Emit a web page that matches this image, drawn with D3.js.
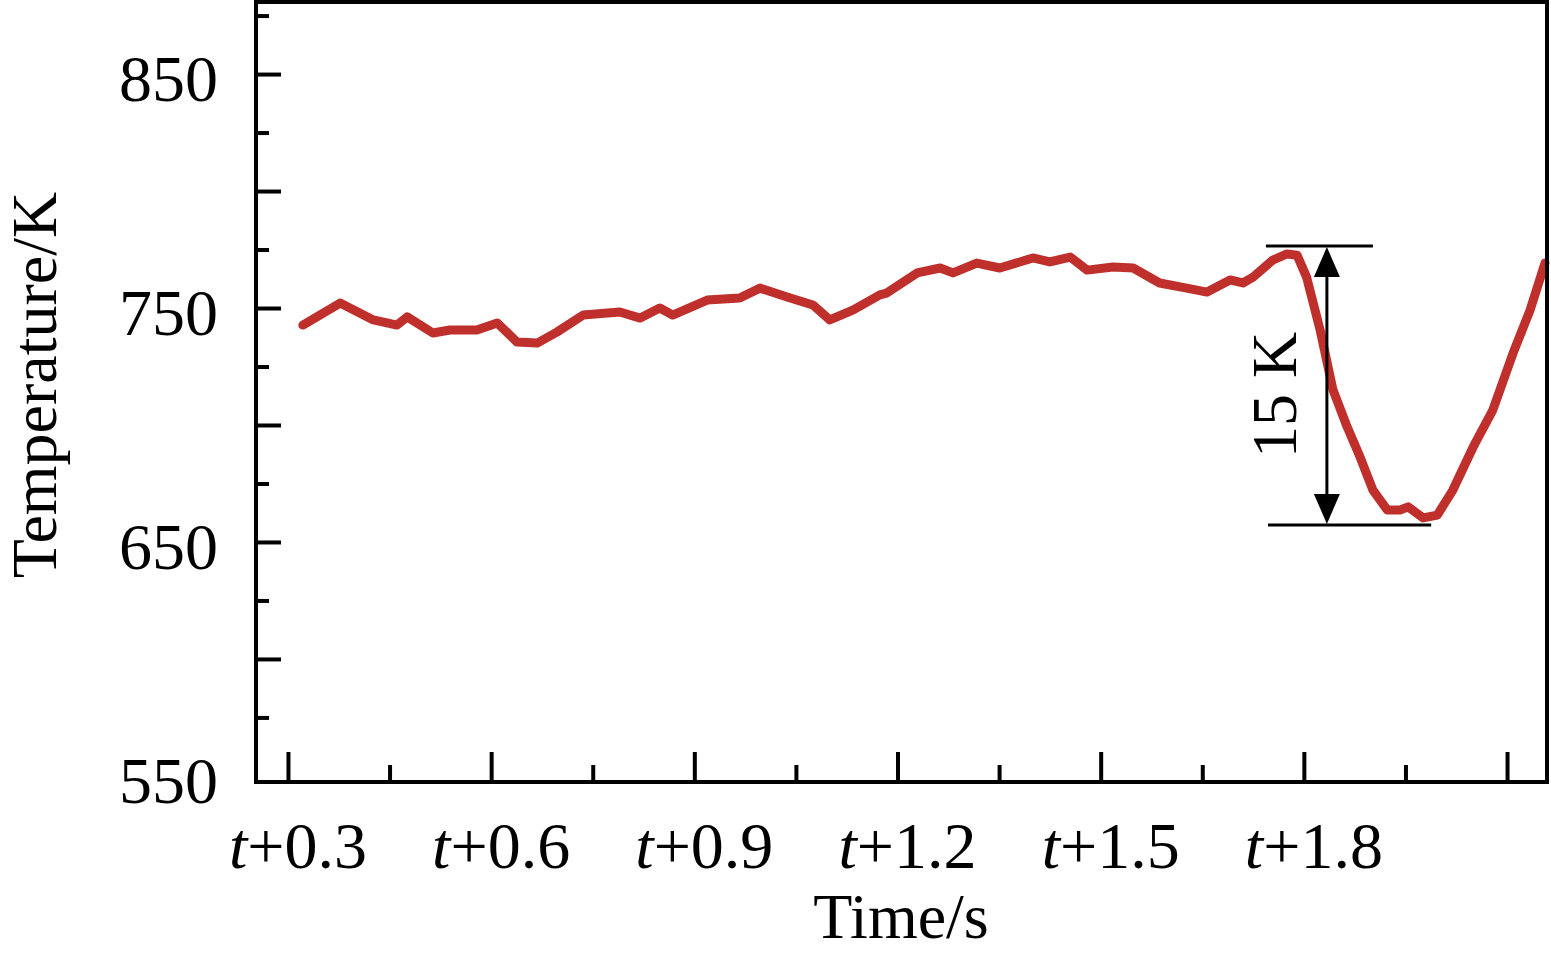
<!DOCTYPE html>
<html>
<head>
<meta charset="utf-8">
<script src="https://cdn.jsdelivr.net/npm/d3@7/dist/d3.min.js"></script>
<style>
  html, body { margin: 0; padding: 0; background: #fff; }
  svg { display: block; }
  text { font-family: "Liberation Serif", "Times New Roman", serif; fill: #000; }
</style>
</head>
<body>
<svg id="chart" width="1551" height="954"></svg>
<script>
// ---- data ----
const timeValues = [0.322, 0.377, 0.426, 0.461, 0.476, 0.514, 0.539, 0.579, 0.609, 0.638, 0.668, 0.697, 0.736,
  0.790, 0.820, 0.849, 0.868, 0.919, 0.967, 0.997, 1.037, 1.075, 1.100, 1.134, 1.174, 1.184, 1.229, 1.263,
  1.282, 1.317, 1.351, 1.400, 1.425, 1.455, 1.480, 1.518, 1.548, 1.587, 1.627, 1.657, 1.691, 1.710, 1.725,
  1.754, 1.775, 1.790, 1.804, 1.824, 1.843, 1.864, 1.883, 1.902, 1.923, 1.942, 1.954, 1.976, 1.997, 2.020,
  2.050, 2.079, 2.109, 2.134, 2.156];
const temperatureValues = [742.7, 752.1, 744.9, 742.7, 746.2, 739.3, 740.6, 740.6, 743.6, 735.5, 735.0, 739.7, 747.0,
  748.3, 745.7, 750.0, 747.0, 753.4, 754.3, 758.5, 754.7, 751.3, 744.9, 749.1, 755.6, 756.4, 765.0, 767.1,
  765.0, 769.2, 767.1, 771.4, 769.7, 771.8, 766.2, 767.5, 767.1, 760.7, 758.5, 756.8, 762.0, 760.7, 763.2,
  770.5, 773.1, 772.6, 763.2, 740.6, 715.0, 699.1, 686.3, 672.2, 663.7, 663.7, 665.0, 660.3, 661.5, 672.2,
  690.6, 706.4, 730.8, 749.1, 769.2];
const yLabelTicks = [550, 650, 750, 850];
const yMajorTickMarks = [600, 650, 700, 750, 800, 850];
const yMinorTickMarks = [575, 625, 675, 725, 775, 825, 875];
const xMajorTicks = [0.3, 0.6, 0.9, 1.2, 1.5, 1.8, 2.1];
const xMinorTicks = [0.45, 0.75, 1.05, 1.35, 1.65, 1.95];
const xTickLabels = ["0.3", "0.6", "0.9", "1.2", "1.5", "1.8", ""];
const annotationTime = 1.834;
const annotationHigh = 776.5;
const annotationLow = 657.3;
const annotationHighSpan = [1.744, 1.902];
const annotationLowSpan = [1.747, 1.988];
const annotationLabel = "15 K";
const xTitle = "Time/s";
const yTitle = "Temperature/K";

// ---- layout ----
const L = 256, R = 1547, T = 2, B = 782;
const svg = d3.select("#chart");
const x = d3.scaleLinear().domain([0.2528, 2.159]).range([L, R]);
const y = d3.scaleLinear().domain([547.4, 880.8]).range([B, T]);

const lineColor = "#bf2f2b";

// data line
const pts = timeValues.map((t, i) => [t, temperatureValues[i]]);
svg.append("path")
  .datum(pts)
  .attr("fill", "none")
  .attr("stroke", lineColor)
  .attr("stroke-width", 9)
  .attr("stroke-linejoin", "round")
  .attr("stroke-linecap", "round")
  .attr("d", d3.line().x(d => x(d[0])).y(d => y(d[1])));

// y axis labels
const yLab = d3.axisLeft(y).tickValues(yLabelTicks).tickSize(0).tickPadding(38).tickFormat(d3.format("d"));
const gyl = svg.append("g").attr("transform", `translate(${L},0)`).call(yLab);
gyl.select(".domain").remove();
gyl.selectAll(".tick line").remove();
gyl.selectAll(".tick text").attr("font-size", 66).attr("dy", "0.4em");

// y tick marks (inward)
const yAxis = d3.axisLeft(y).tickValues(yMajorTickMarks).tickSize(-25).tickFormat("");
const gy = svg.append("g").attr("transform", `translate(${L},0)`).call(yAxis);
gy.select(".domain").remove();
gy.selectAll(".tick line").attr("stroke", "#000").attr("stroke-width", 4);
const yAxisMinor = d3.axisLeft(y).tickValues(yMinorTickMarks).tickSize(-13).tickFormat("");
const gym = svg.append("g").attr("transform", `translate(${L},0)`).call(yAxisMinor);
gym.select(".domain").remove();
gym.selectAll(".tick line").attr("stroke", "#000").attr("stroke-width", 4);

// x axis ticks (inward)
const xAxis = d3.axisBottom(x).tickValues(xMajorTicks).tickSize(-30).tickFormat("");
const gx = svg.append("g").attr("transform", `translate(0,${B})`).call(xAxis);
gx.select(".domain").remove();
gx.selectAll(".tick line").attr("stroke", "#000").attr("stroke-width", 4);
const xAxisMinor = d3.axisBottom(x).tickValues(xMinorTicks).tickSize(-17).tickFormat("");
const gxm = svg.append("g").attr("transform", `translate(0,${B})`).call(xAxisMinor);
gxm.select(".domain").remove();
gxm.selectAll(".tick line").attr("stroke", "#000").attr("stroke-width", 4);

// x tick labels with italic t
xMajorTicks.forEach((v, i) => {
  if (!xTickLabels[i]) return;
  const t = svg.append("text")
    .attr("x", x(v) + 10).attr("y", 868)
    .attr("text-anchor", "middle").attr("font-size", 66);
  t.append("tspan").attr("font-style", "italic").text("t");
  t.append("tspan").text("+" + xTickLabels[i]);
});

// frame
svg.append("rect")
  .attr("x", L).attr("y", T).attr("width", R - L).attr("height", B - T)
  .attr("fill", "none").attr("stroke", "#000").attr("stroke-width", 4);

// axis titles
svg.append("text").attr("x", 901).attr("y", 938)
  .attr("text-anchor", "middle").attr("font-size", 64).text(xTitle);
svg.append("text").attr("transform", `translate(56,385) rotate(-90)`)
  .attr("text-anchor", "middle").attr("font-size", 64).text(yTitle);

// annotation
const ax = x(annotationTime);
svg.append("line").attr("x1", x(annotationHighSpan[0])).attr("x2", x(annotationHighSpan[1]))
  .attr("y1", y(annotationHigh)).attr("y2", y(annotationHigh)).attr("stroke", "#000").attr("stroke-width", 3);
svg.append("line").attr("x1", x(annotationLowSpan[0])).attr("x2", x(annotationLowSpan[1]))
  .attr("y1", y(annotationLow)).attr("y2", y(annotationLow)).attr("stroke", "#000").attr("stroke-width", 3);
svg.append("line").attr("x1", ax).attr("x2", ax)
  .attr("y1", y(annotationHigh) + 10).attr("y2", y(annotationLow) - 10).attr("stroke", "#000").attr("stroke-width", 3);
const yh = y(annotationHigh), yl = y(annotationLow);
svg.append("path").attr("d", `M${ax},${yh + 1} L${ax - 13},${yh + 31} L${ax + 13},${yh + 31} Z`).attr("fill", "#000");
svg.append("path").attr("d", `M${ax},${yl - 1} L${ax - 13},${yl - 31} L${ax + 13},${yl - 31} Z`).attr("fill", "#000");
svg.append("text").attr("transform", `translate(1296,395) rotate(-90)`)
  .attr("text-anchor", "middle").attr("font-size", 64).text(annotationLabel);
</script>
</body>
</html>
